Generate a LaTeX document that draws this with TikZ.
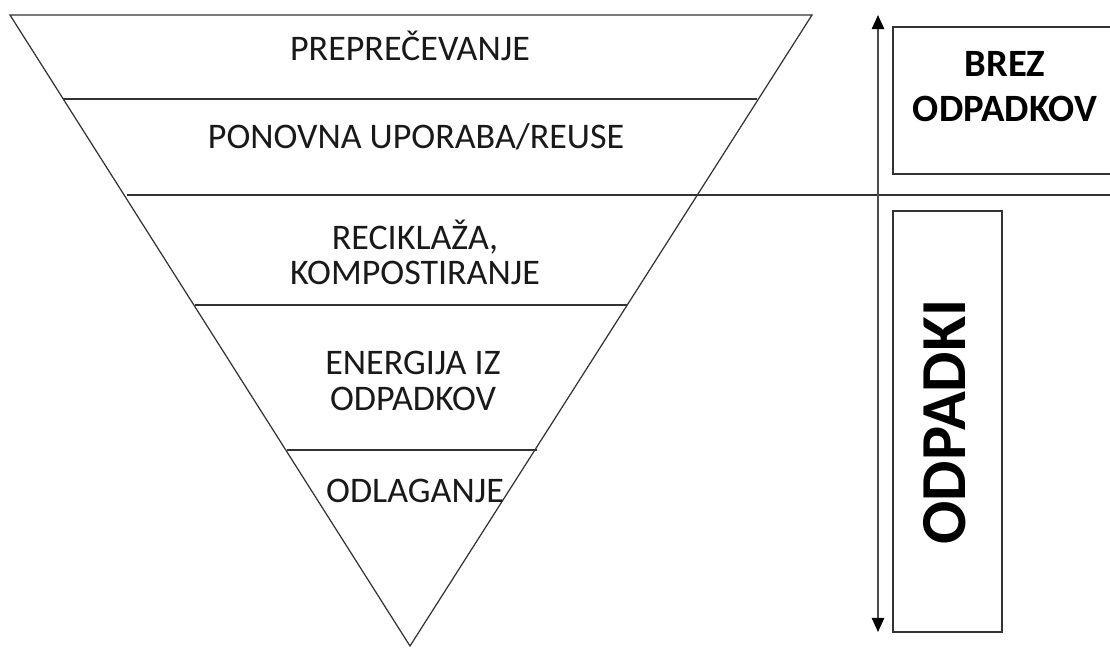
\documentclass[tikz,border=0pt]{standalone}
\usepackage{fontspec}
\setmainfont{Carlito}
\usetikzlibrary{arrows.meta}
\tikzstyle{leveltext} = [font=\fontsize{20.5}{20}\selectfont, align=center,
    text=black!90, inner sep=0pt]
\tikzstyle{boxtext} = [font=\fontsize{22}{25.5}\selectfont\bfseries, align=center,
    inner sep=0pt]
\tikzstyle{bigtext} = [font=\fontsize{36.5}{40}\selectfont\bfseries, rotate=90,
    inner sep=0pt]
\tikzstyle{thinline} = [draw=black!80, line width=0.7pt]

\begin{document}
\begin{tikzpicture}[x=0.02cm, y=-0.02cm]
    \useasboundingbox (0,0) rectangle (1110,648);
    \clip (0,0) rectangle (1110,648);
    % inverted pyramid
    \coordinate (tl) at (10,15);
    \coordinate (tr) at (812,15);
    \coordinate (apex) at (410,646);
    \draw[thinline] (tl) -- (tr) -- (apex) -- cycle;
    \draw[thinline] (63,99) -- (757,99);
    \draw[thinline] (127,195) -- (1112,195);
    \draw[thinline] (195,305) -- (627,305);
    \draw[thinline] (287,450) -- (537,450);
    % levels
    \node[leveltext] (preprecevanje) at (410,46) {PREPREČEVANJE};
    \node[leveltext] (ponovna) at (416,137) {PONOVNA UPORABA/REUSE};
    \node[leveltext] (reciklaza) at (415,252) {RECIKLAŽA,\\KOMPOSTIRANJE};
    \node[leveltext] (energija) at (413,381) {ENERGIJA IZ\\ODPADKOV};
    \node[leveltext] (odlaganje) at (415,491) {ODLAGANJE};
    % right side
    \coordinate (arrtop) at (878,15);
    \coordinate (arrbot) at (878,632);
    \draw[draw=black!70, line width=0.9pt, {Triangle[length=8pt,width=7pt,color=black]}-{Triangle[length=8pt,width=7pt,color=black]}] (arrtop) -- (arrbot);
    \draw[thinline] (1115,27) -- (893,27) -- (893,174) -- (1115,174);
    \node[boxtext] (brez) at (1005,87) {BREZ\\ODPADKOV};
    \draw[thinline] (893,211) rectangle (1002,632);
    \node[bigtext] (odpadki) at (945,422) {ODPADKI};
\end{tikzpicture}
\end{document}
